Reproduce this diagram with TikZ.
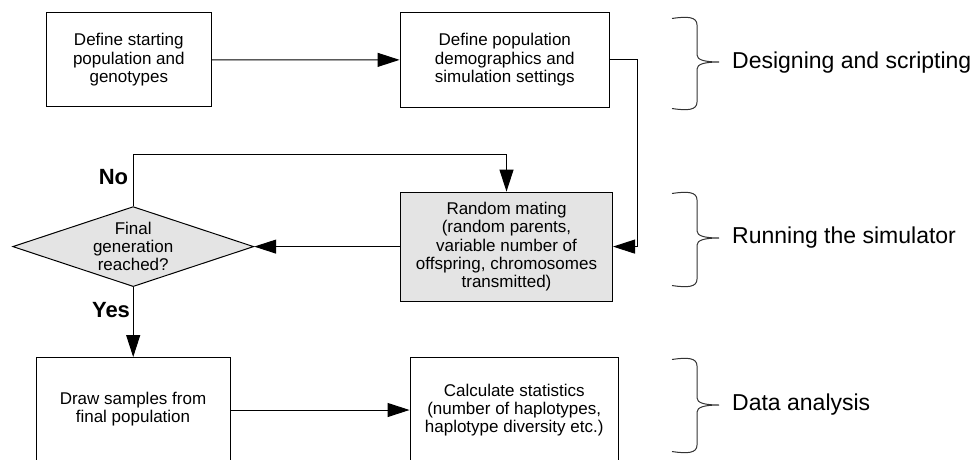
\documentclass[tikz,border=0pt]{standalone}
\usepackage{fontspec}
\setmainfont{Liberation Sans}
\usetikzlibrary{shapes.geometric,arrows.meta}
\definecolor{boxgray}{RGB}{228,228,228}
\begin{document}
\begin{tikzpicture}[x=1pt,y=-1pt,
  every node/.style={font=\fontsize{17}{18.3}\selectfont},
  box/.style={draw,line width=1pt,rectangle,align=center,inner sep=0pt},
  dia/.style={draw,line width=1pt,diamond,fill=boxgray,inner sep=0pt,minimum width=241pt,minimum height=80pt},
  txt/.style={align=center,inner sep=0pt},
  conn/.style={line width=1pt,-{Triangle[length=22pt,width=14pt]}},
  yn/.style={font=\fontsize{22}{24}\selectfont\bfseries,inner sep=0pt},
  phase/.style={font=\fontsize{23}{26}\selectfont,anchor=west,inner sep=0pt},
  bracepath/.style={line width=1pt,black!80}]
\useasboundingbox (0,0) rectangle (979,460);
\node[box,minimum width=165.5pt,minimum height=94.3pt] (b1) at (128.8,59.8) {Define starting\\population and\\genotypes};
\node[box,minimum width=209.5pt,minimum height=94.8pt] (b2) at (504.8,59.9) {Define population\\demographics and\\simulation settings};
\node[box,fill=boxgray,minimum width=212pt,minimum height=109pt] (rm) at (506.5,246.6) {Random mating\\(random parents,\\variable number of\\offspring, chromosomes\\transmitted)};
\node[dia] (d) at (133.2,246.6) {};
\node[txt] (dt) at (d) {Final\\generation\\reached?};
\node[box,minimum width=194pt,minimum height=103.5pt] (b3) at (133,409.3) {Draw samples from\\final population};
\node[box,minimum width=208.3pt,minimum height=104.6pt] (b4) at (514.2,410) {Calculate statistics\\(number of haplotypes,\\haplotype diversity etc.)};
\node[yn] (no) at (113.5,177) {No};
\node[yn] (yes) at (111,310) {Yes};
\draw[conn] (b1) -- (b2);
\draw[conn] (b2.east) -- ++(27,0) |- (rm.east);
\draw[conn] (rm.west) -- (d.east);
\draw[conn] (d.north) -- ++(0,-51.5) -| (rm.north);
\draw[conn] (d.south) -- (d.south |- b3.north);
\draw[conn] (b3.east |- b4.west) -- (b4.west);
\foreach \ya/\ym/\yb in {17/62/110, 192/238/287, 358/405/453}{
  \draw[bracepath] (672,\ya+1.5) .. controls (688,\ya-1) and (697,\ya) .. (697,\ya+8)
    -- (697,\ym-7) .. controls (697,\ym-2) and (705,\ym) .. (719,\ym)
    .. controls (705,\ym) and (697,\ym+2) .. (697,\ym+7)
    -- (697,\yb-8) .. controls (697,\yb) and (688,\yb+1) .. (672,\yb-1.5);
}
\node[phase] (p1) at (732,62.5) {Designing and scripting};
\node[phase] (p2) at (732,238) {Running the simulator};
\node[phase] (p3) at (732,405) {Data analysis};
\end{tikzpicture}
\end{document}
